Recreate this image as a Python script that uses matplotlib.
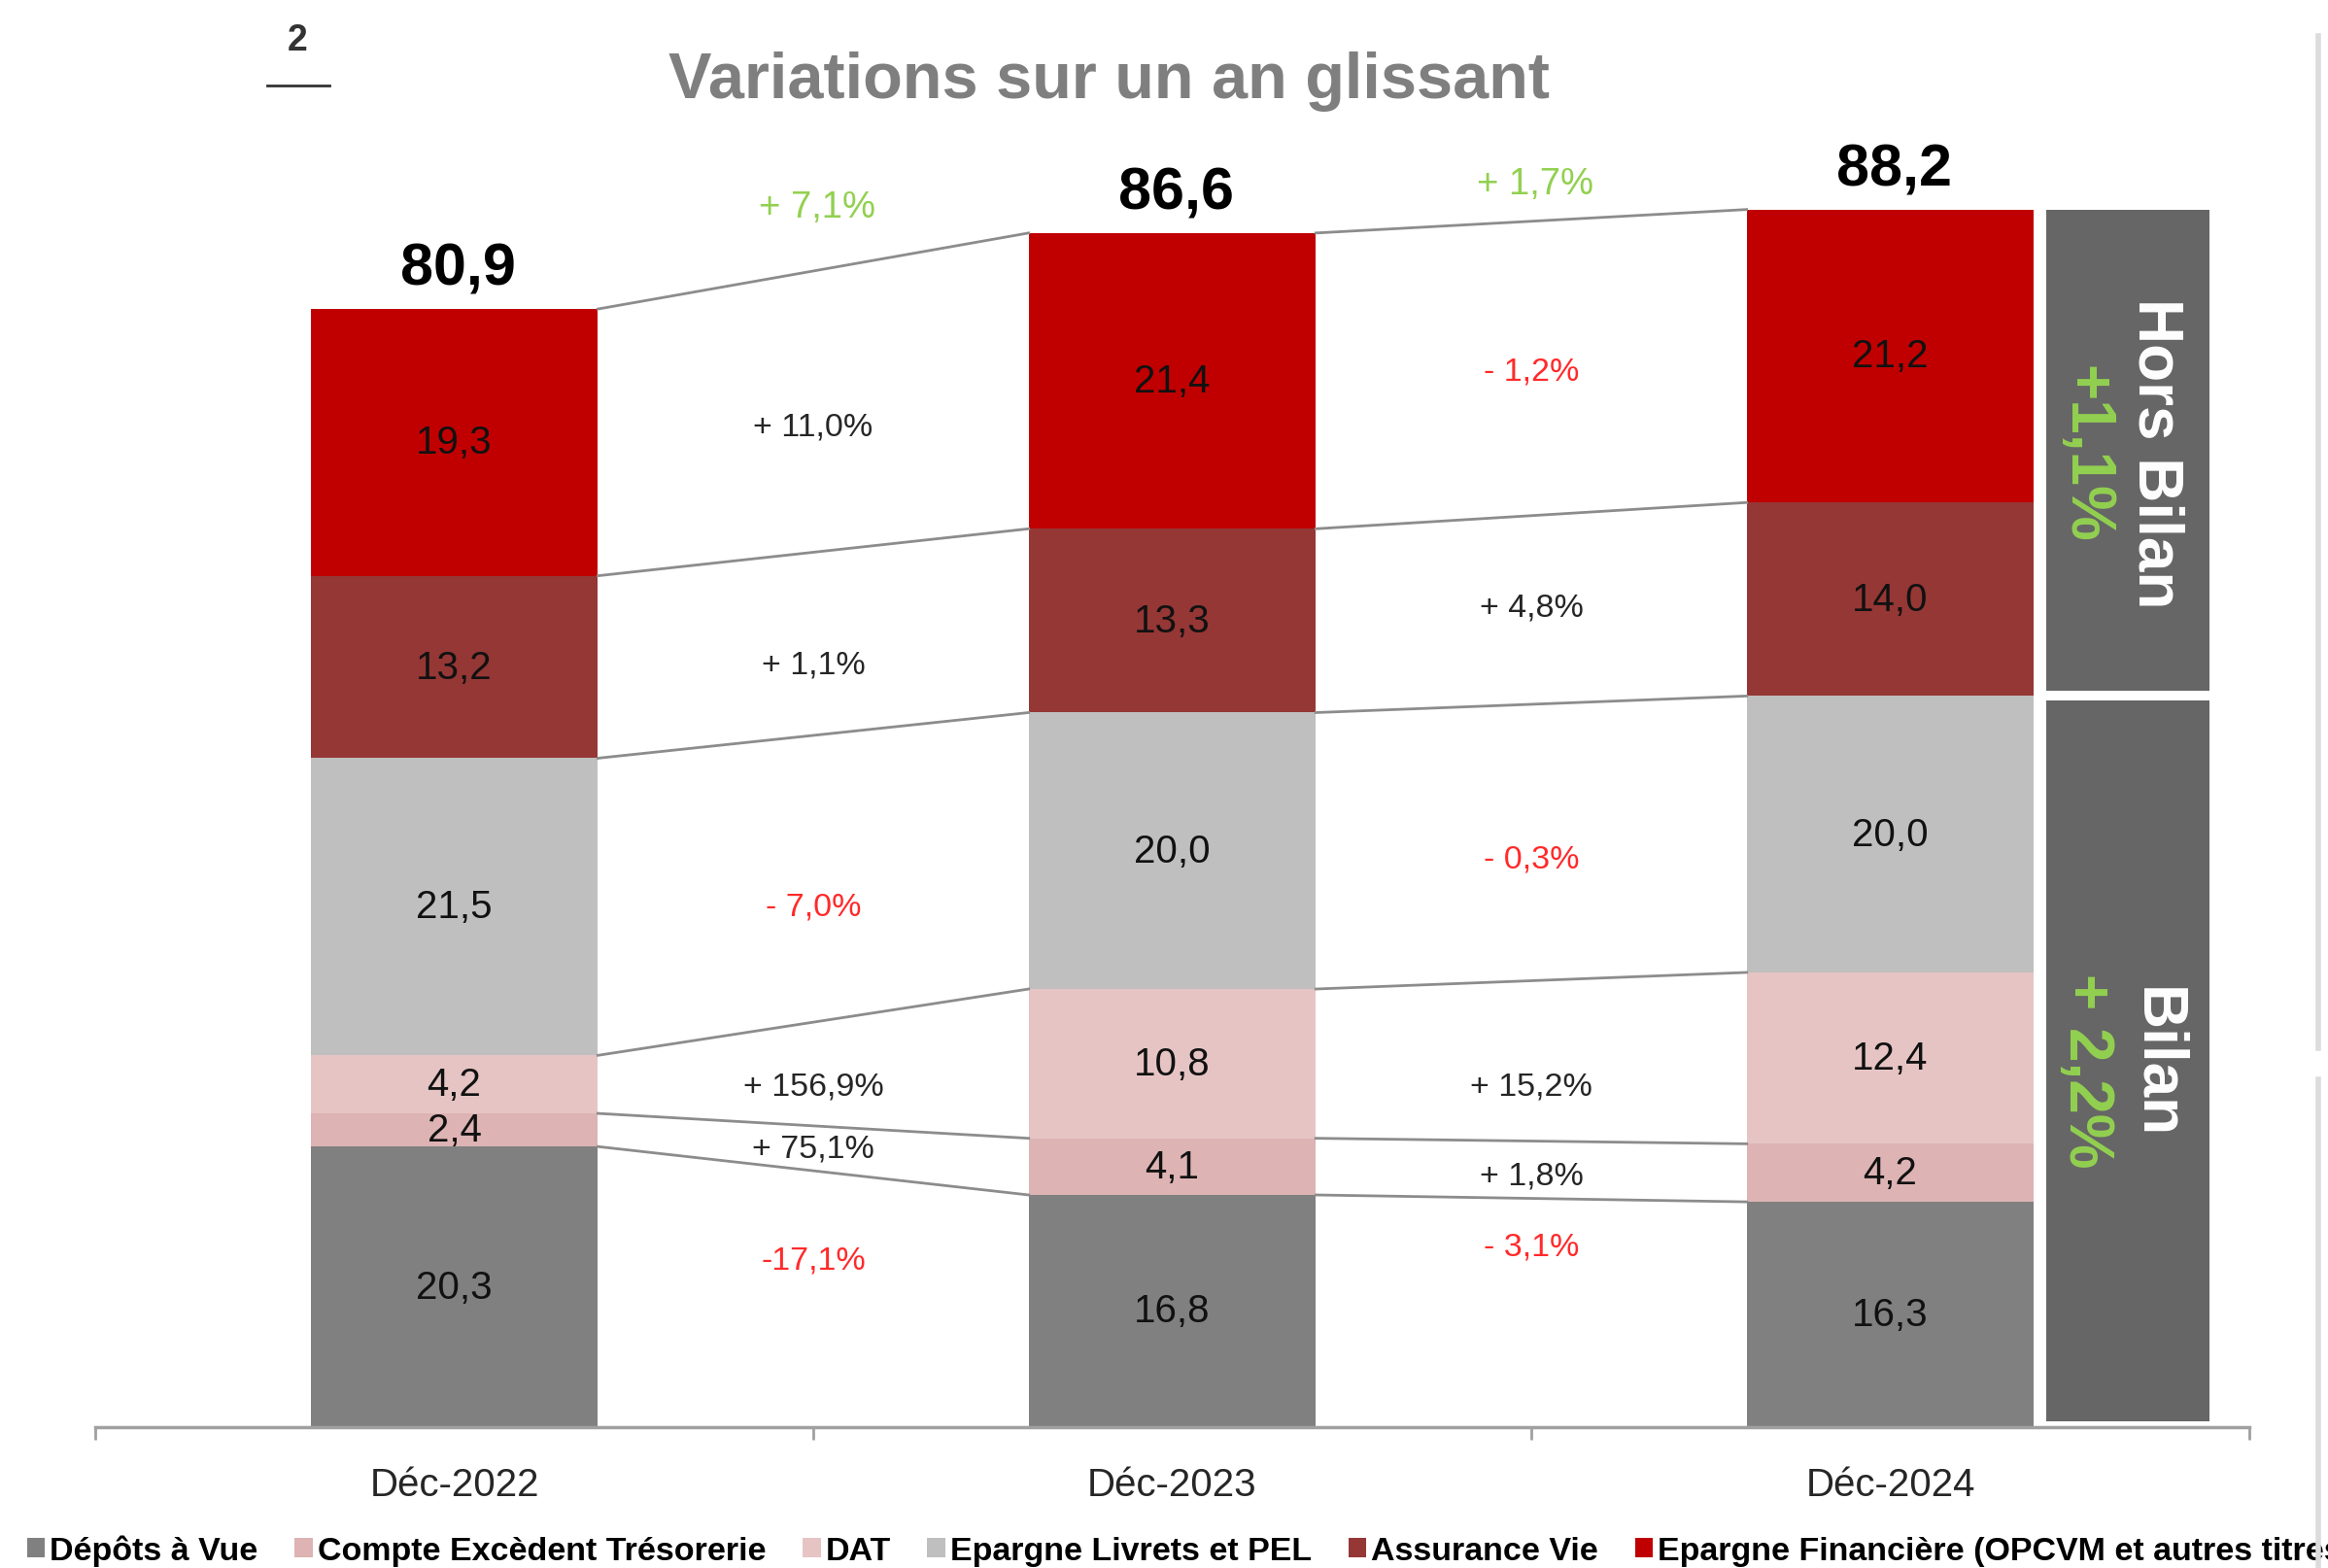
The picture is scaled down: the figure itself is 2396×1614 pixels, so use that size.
import matplotlib.pyplot as plt
from matplotlib.lines import Line2D
from matplotlib.patches import Rectangle
import numpy as np

plt.rcParams["font.family"] = ["Liberation Sans", "DejaVu Sans"]

periods = ["Déc-2022", "Déc-2023", "Déc-2024"]
series = ["Dépôts à Vue", "Compte Excèdent Trésorerie", "DAT",
          "Epargne Livrets et PEL", "Assurance Vie",
          "Epargne Financière (OPCVM et autres titres)"]
depots = [20.3, 16.8, 16.3]
cet = [2.4, 4.1, 4.2]
dat = [4.2, 10.8, 12.4]
livrets = [21.5, 20.0, 20.0]
assurance = [13.2, 13.3, 14.0]
financiere = [19.3, 21.4, 21.2]
totals = ["80,9", "86,6", "88,2"]
colors = ["#808080", "#DDB3B3", "#E6C4C4", "#BFBFBF", "#953735", "#C00000"]

# variations d'une année sur l'autre, du bas vers le haut
var_22_23 = ["-17,1%", "+ 75,1%", "+ 156,9%", "- 7,0%", "+ 1,1%", "+ 11,0%"]
var_23_24 = ["- 3,1%", "+ 1,8%", "+ 15,2%", "- 0,3%", "+ 4,8%", "- 1,2%"]
var_total = ["+ 7,1%", "+ 1,7%"]
hors_bilan = "+1,1%"
bilan = "+ 2,2%"

stack = [depots, cet, dat, livrets, assurance, financiere]
x = np.arange(len(periods))
w = 0.4

fig = plt.figure(figsize=(23.96, 16.15), dpi=100)
ax = fig.add_axes([98 / 2396, 1 - 1470 / 1615, (2315 - 98) / 2396, 1370 / 1615])

bottom = np.zeros(3)
levels = []
for vals, c, name in zip(stack, colors, series):
    vals = np.array(vals)
    ax.bar(x, vals, w, bottom=bottom, color=c, label=name, linewidth=0)
    for i in range(3):
        ax.text(x[i], bottom[i] + vals[i] / 2, f"{vals[i]:.1f}".replace(".", ","),
                ha="center", va="center", fontsize=29, color="#111111")
    bottom = bottom + vals
    levels.append(bottom.copy())

# lignes de liaison entre les barres
for i in range(2):
    for lv in levels:
        ax.plot([x[i] + w / 2, x[i + 1] - w / 2], [lv[i], lv[i + 1]],
                color="#8C8C8C", lw=2, zorder=1)

# totaux
for i in range(3):
    ax.text(x[i] + 0.005, bottom[i] + 1.8, totals[i], ha="center", va="baseline",
            fontsize=44, fontweight="bold", color="black")

# variations
tweak = [[2.8, 0, -0.9, -2, -1.5, -1.1],
         [4.8, -0.4, -1.8, -1.2, 0.2, -0.2]]
lows = [np.zeros(3)] + levels
for i, labels in enumerate([var_22_23, var_23_24]):
    for k, lab in enumerate(labels):
        lo = (lows[k][i] + lows[k][i + 1]) / 2
        hi = (lows[k + 1][i] + lows[k + 1][i + 1]) / 2
        col = "#FF2A2A" if lab.startswith("-") else "#262626"
        ax.text(x[i] + 0.5, (lo + hi) / 2 + tweak[i][k], lab, ha="center", va="center",
                fontsize=24.5, color=col)
    ax.text(x[i] + 0.505, max(bottom[i], bottom[i + 1]) + 1.9, var_total[i],
            ha="center", va="center", fontsize=27.5, color="#92D050")

# panneaux Bilan / Hors Bilan
split = levels[3][2]
px0, px1 = 2.217, 2.444
ax.add_patch(Rectangle((px0, split + 0.35), px1 - px0, bottom[2] - split - 0.35,
                       color="#666666", lw=0))
ax.add_patch(Rectangle((px0, 0.4), px1 - px0, split - 0.35 - 0.4,
                       color="#666666", lw=0))
yc_top = (bottom[2] + split) / 2
ax.text(2.37, yc_top, "Hors Bilan", rotation=270, ha="center", va="center",
        fontsize=46, fontweight="bold", color="white")
ax.text(2.272, yc_top, hors_bilan, rotation=270, ha="center", va="center",
        fontsize=46, fontweight="bold", color="#92D050")
ax.text(2.37, split / 2, "Bilan", rotation=270, ha="center", va="center",
        fontsize=46, fontweight="bold", color="white")
ax.text(2.272, split / 2 - 0.6, bilan, rotation=270, ha="center", va="center",
        fontsize=46, fontweight="bold", color="#92D050")

ax.set_xlim(-0.5, 2.5)
ax.set_ylim(0, 96.3)
for s in ["top", "right", "left"]:
    ax.spines[s].set_visible(False)
ax.spines["bottom"].set_color("#A0A0A0")
ax.spines["bottom"].set_linewidth(2.5)
ax.set_yticks([])
ax.set_xticks([-0.5, 0.5, 1.5, 2.5])
ax.set_xticklabels([])
ax.tick_params(axis="x", which="major", length=9, width=2, color="#A0A0A0")
ax.set_xticks(x, minor=True)
ax.set_xticklabels(periods, minor=True)
ax.tick_params(axis="x", which="minor", length=0, pad=29, labelsize=29,
               labelcolor="#262626")

# légende (coupée au bord droit comme l'original)
ax.legend(loc="center left", bbox_to_anchor=(0.0115, 1 - 1597 / 1615),
          bbox_transform=fig.transFigure, ncol=6, frameon=False,
          prop={"weight": "bold", "size": 24.5}, handlelength=0.55,
          handleheight=0.55, handletextpad=0.15, columnspacing=1.1,
          borderpad=0, borderaxespad=0)

fig.text(1142 / 2396, 1 - 84 / 1615, "Variations sur un an glissant",
         ha="center", va="center", fontsize=48, fontweight="bold", color="#7F7F7F")
fig.text(306 / 2396, 1 - 42 / 1615, "2", ha="center", va="center",
         fontsize=27, fontweight="bold", color="#333333")
fig.add_artist(Line2D([275 / 2396, 339 / 2396], [1 - 89 / 1615] * 2,
                      color="#333333", lw=2))

# bord gris à droite
fig.add_artist(Line2D([2386 / 2396] * 2, [1 - 38 / 1615, 1 - 1080 / 1615],
                      color="#DCDCDC", lw=4))
fig.add_artist(Line2D([2386 / 2396] * 2, [1 - 1112 / 1615, 0],
                      color="#DCDCDC", lw=4))

fig.savefig("out.png", dpi=100)
